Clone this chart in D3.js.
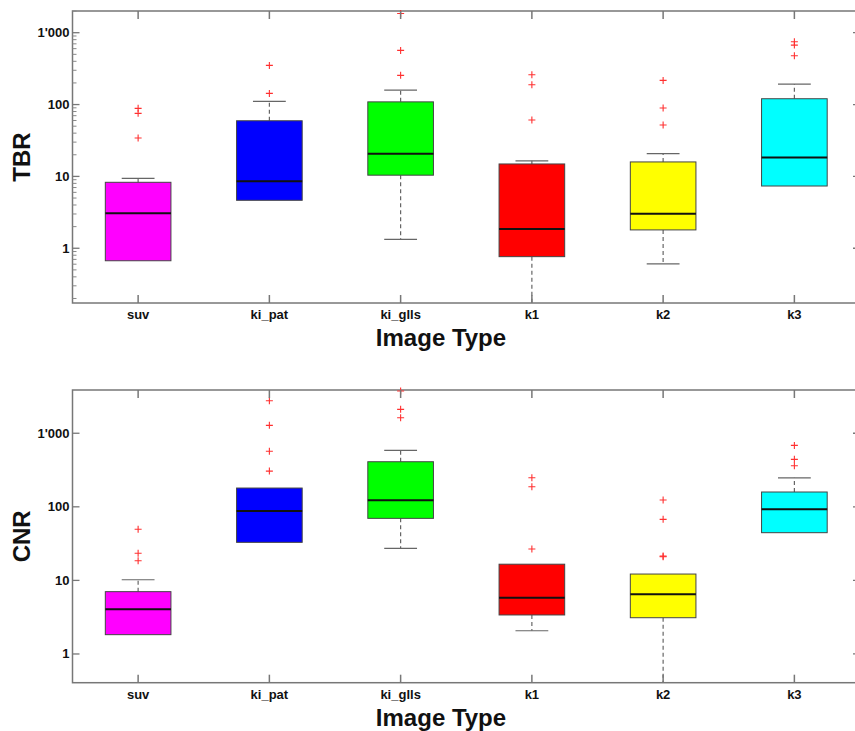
<!DOCTYPE html>
<html>
<head>
  <meta charset="utf-8">
  <title>TBR / CNR box plots</title>
  <style>
    body { margin: 0; background: #fff; }
    text { font-family: "Liberation Sans", Arial, sans-serif; font-weight: bold; fill: #111; }
  </style>
</head>
<body>
  <div id="chart"></div>
  <script src="https://cdn.jsdelivr.net/npm/d3@7"></script>
  <script>
    // categories on the x axis
    const categories = ['suv', 'ki_pat', 'ki_glls', 'k1', 'k2', 'k3'];
    const boxColors = ['#ff00ff', '#0000ff', '#00ff00', '#ff0000', '#ffff00', '#00ffff'];

    // TBR: lower whisker, q1, median, q3, upper whisker, outliers
    const tbrLo  = [0.67, 4.65, 1.33, 0.12, 0.605, 7.35];
    const tbrQ1  = [0.67, 4.65, 10.4, 0.764, 1.8, 7.35];
    const tbrMed = [3.07, 8.55, 20.7, 1.85, 3.03, 18.4];
    const tbrQ3  = [8.28, 59.5, 109, 14.9, 15.9, 120.5];
    const tbrHi  = [9.4, 110.8, 159, 16.5, 20.7, 193];
    const tbrOut = [[88.5, 75.5, 34.2], [351, 143], [1855, 567, 255], [260, 189, 60.9], [217, 89.4, 51.9], [748, 672, 478]];

    // CNR
    const cnrLo  = [1.83, 32.9, 27.3, 2.07, 0.3, 44.5];
    const cnrQ1  = [1.83, 32.9, 69.7, 3.39, 3.11, 44.5];
    const cnrMed = [4.05, 87.7, 122.5, 5.82, 6.47, 92.5];
    const cnrQ3  = [7.03, 180, 410, 16.6, 12.2, 159];
    const cnrHi  = [10.2, 180, 586, 16.6, 12.2, 248];
    const cnrOut = [[49.5, 23.4, 18.5], [2766, 1280, 568, 306], [3750, 2113, 1626], [248, 187.6, 26.7], [124, 67.6, 21.4, 21], [684, 442, 362]];

    const yTicks = [1, 10, 100, 1000];

    function translate(x, y) {
      return 'translate(' + x + ',' + y + ')';
    }

    const svgWidth = 855, svgHeight = 731;
    const svg = d3.select('#chart').append('svg')
      .attr('width', svgWidth).attr('height', svgHeight);

    const fmt = d => d3.format(',')(d).replace(/,/g, "'");

    let clipId = 0;
    function drawPanel(opt) {
      const left = 72.5, right = 860;
      const top = opt.top, bottom = opt.bottom;

      const x = d3.scaleLinear().domain([0.5, categories.length + 0.5]).range([left, right]);
      const step = x(2) - x(1);
      const y = d3.scaleLog().domain(opt.domain).range([bottom, top]);

      const g = svg.append('g');
      const id = 'clip' + (clipId++);
      g.append('clipPath').attr('id', id)
        .append('rect').attr('x', left).attr('y', top).attr('width', right - left).attr('height', bottom - top);

      const rows = categories.map((c, i) => ({
        name: c, i: i + 1, color: boxColors[i],
        lo: opt.lo[i], q1: opt.q1[i], med: opt.med[i], q3: opt.q3[i], hi: opt.hi[i], out: opt.out[i]
      }));

      const plot = g.append('g').attr('clip-path', 'url(#' + id + ')');

      // whiskers (dashed)
      plot.selectAll('.wup').data(rows.filter(d => d.hi > d.q3)).enter().append('line')
        .attr('x1', d => x(d.i)).attr('x2', d => x(d.i))
        .attr('y1', d => y(d.q3)).attr('y2', d => y(d.hi))
        .attr('stroke', '#666').attr('stroke-width', 1.2).attr('stroke-dasharray', '4,3');
      plot.selectAll('.wdn').data(rows.filter(d => d.lo < d.q1)).enter().append('line')
        .attr('x1', d => x(d.i)).attr('x2', d => x(d.i))
        .attr('y1', d => y(d.q1)).attr('y2', d => y(d.lo))
        .attr('stroke', '#666').attr('stroke-width', 1.2).attr('stroke-dasharray', '4,3');

      // caps, only where the whisker leaves the box
      const caps = rows.flatMap(d => {
        const c = [];
        if (d.hi > d.q3) c.push({ i: d.i, v: d.hi });
        if (d.lo < d.q1) c.push({ i: d.i, v: d.lo });
        return c;
      });
      plot.selectAll('.cap').data(caps).enter().append('line')
        .attr('x1', d => x(d.i) - step * 0.125).attr('x2', d => x(d.i) + step * 0.125)
        .attr('y1', d => y(d.v)).attr('y2', d => y(d.v))
        .attr('stroke', '#666').attr('stroke-width', 1.2);

      // boxes
      plot.selectAll('.box').data(rows).enter().append('rect')
        .attr('x', d => x(d.i) - step * 0.25).attr('width', step * 0.5)
        .attr('y', d => y(d.q3)).attr('height', d => y(d.q1) - y(d.q3))
        .attr('fill', d => d.color).attr('stroke', '#444').attr('stroke-width', 1);

      // medians
      plot.selectAll('.med').data(rows).enter().append('line')
        .attr('x1', d => x(d.i) - step * 0.25).attr('x2', d => x(d.i) + step * 0.25)
        .attr('y1', d => y(d.med)).attr('y2', d => y(d.med))
        .attr('stroke', '#111').attr('stroke-width', 2);

      // frame
      g.append('rect').attr('x', left).attr('y', top).attr('width', right - left).attr('height', bottom - top)
        .attr('fill', 'none').attr('stroke', '#777').attr('stroke-width', 1.5);

      // outliers
      const pts = rows.flatMap(d => d.out.map(v => ({ i: d.i, v: v })));
      g.selectAll('.out').data(pts).enter().append('path')
        .attr('d', d => {
          const cx = x(d.i), cy = y(d.v), r = 3.5;
          return 'M' + (cx - r) + ',' + cy + 'H' + (cx + r) + 'M' + cx + ',' + (cy - r) + 'V' + (cy + r);
        })
        .attr('stroke', '#ff3030').attr('stroke-width', 1.1).attr('fill', 'none');

      // x ticks top and bottom
      const xt = g.append('g');
      categories.forEach((c, i) => {
        xt.append('line').attr('x1', x(i + 1)).attr('x2', x(i + 1)).attr('y1', bottom).attr('y2', bottom - 8)
          .attr('stroke', '#777').attr('stroke-width', 1.5);
        xt.append('line').attr('x1', x(i + 1)).attr('x2', x(i + 1)).attr('y1', top).attr('y2', top + 8)
          .attr('stroke', '#777').attr('stroke-width', 1.5);
        xt.append('text').attr('x', x(i + 1)).attr('y', bottom + 16)
          .attr('text-anchor', 'middle').attr('font-size', 13).text(c);
      });

      // y ticks
      const yt = g.append('g');
      const major = yTicks.filter(v => v >= opt.domain[0] && v <= opt.domain[1]);
      major.forEach(v => {
        [[left, 7], [right, -7]].forEach(s => {
          yt.append('line').attr('x1', s[0]).attr('x2', s[0] + s[1]).attr('y1', y(v)).attr('y2', y(v))
            .attr('stroke', '#777').attr('stroke-width', 1.3);
        });
        yt.append('text').attr('x', left - 3).attr('y', y(v) + 4.5)
          .attr('text-anchor', 'end').attr('font-size', 13).text(fmt(v));
      });
      if (opt.minor) {
        y.ticks().filter(v => major.indexOf(v) < 0).forEach(v => {
          [[left, 4], [right, -4]].forEach(s => {
            yt.append('line').attr('x1', s[0]).attr('x2', s[0] + s[1]).attr('y1', y(v)).attr('y2', y(v))
              .attr('stroke', '#888').attr('stroke-width', 1);
          });
        });
      }

      // axis titles
      g.append('text').attr('transform', translate(30, (top + bottom) / 2) + ' rotate(-90)')
        .attr('text-anchor', 'middle').attr('font-size', 24).text(opt.label);
      g.append('text').attr('x', 441).attr('y', bottom + 43)
        .attr('text-anchor', 'middle').attr('font-size', 24).text('Image Type');
    }

    drawPanel({ top: 11, bottom: 303, domain: [0.173, 2005], label: 'TBR', minor: true,
      lo: tbrLo, q1: tbrQ1, med: tbrMed, q3: tbrQ3, hi: tbrHi, out: tbrOut });
    drawPanel({ top: 390, bottom: 682.7, domain: [0.407, 3870], label: 'CNR', minor: false,
      lo: cnrLo, q1: cnrQ1, med: cnrMed, q3: cnrQ3, hi: cnrHi, out: cnrOut });
  </script>
</body>
</html>
